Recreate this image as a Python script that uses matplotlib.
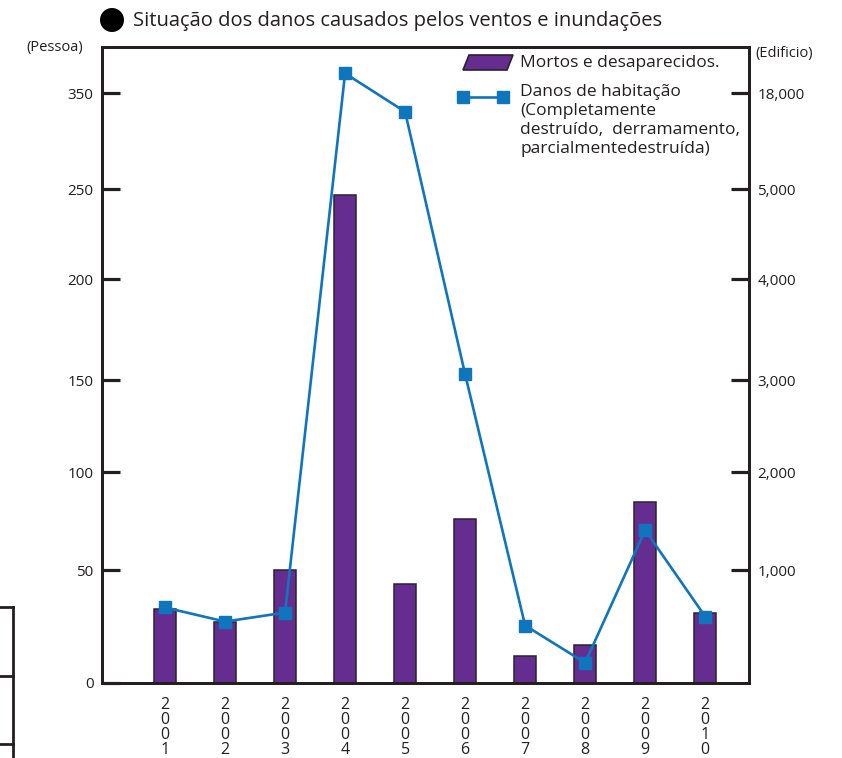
import numpy as np
import matplotlib
matplotlib.use("Agg")
import matplotlib.pyplot as plt
from matplotlib.patches import Polygon, Ellipse
from matplotlib.lines import Line2D

plt.rcParams['font.family'] = ['Open Sans', 'DejaVu Sans']

# data
years = ['2001', '2002', '2003', '2004', '2005', '2006', '2007', '2008', '2009', '2010']
mortos = [33, 27, 50, 247, 44, 76, 12, 17, 85, 31]
habitacao = [670, 545, 625, 20700, 15500, 3060, 510, 180, 1410, 590]

# broken axes: tick values on each side and where they sit (fraction of plot height)
left_ticks = [0, 50, 100, 150, 200, 250, 350]
right_ticks = [0, 1000, 2000, 3000, 4000, 5000, 18000]
breaks = np.array([0, 112.7, 210.7, 302.7, 403.7, 493.7, 589.7]) / 636.0

purple = '#662d91'
blue = '#0f75bc'
dark = '#231f20'


def piecewise(src, dst):
    src = np.asarray(src, float)
    dst = np.asarray(dst, float)
    s_hi = (dst[-1] - dst[-2]) / (src[-1] - src[-2])
    s_lo = (dst[1] - dst[0]) / (src[1] - src[0])

    def f(v):
        v = np.asarray(v, float)
        out = np.interp(v, src, dst)
        out = np.where(v > src[-1], dst[-1] + (v - src[-1]) * s_hi, out)
        out = np.where(v < src[0], dst[0] + (v - src[0]) * s_lo, out)
        return out
    return f


def scale_funcs(vals):
    return piecewise(vals, breaks), piecewise(breaks, vals)


fig = plt.figure(figsize=(8.42, 7.58), dpi=100)
ax = fig.add_axes([102 / 842, 75 / 758, 647 / 842, 636 / 758])

fwd_l, inv_l = scale_funcs(left_ticks)
ax.set_yscale('function', functions=(fwd_l, inv_l))
x = np.arange(len(years))
ax.bar(x, mortos, width=0.36, color=purple, edgecolor='#2b2230', linewidth=1.1, zorder=2)
ax.set_ylim(0, float(inv_l(1.0)))
ax.set_xlim(-1.05, 9.73)
ax.set_yticks(left_ticks)
ax.set_yticklabels([str(v) for v in left_ticks])
ax.yaxis.set_minor_locator(matplotlib.ticker.NullLocator())
ax.set_xticks(x)
ax.set_xticklabels(['\n'.join(y) for y in years], fontsize=11.5, linespacing=0.93,
                   color=dark, va='top')
ax.tick_params(axis='x', length=0, pad=10)
ax.tick_params(axis='y', direction='in', length=13, width=2.3, color=dark,
               labelsize=11, labelcolor=dark, pad=6)

ax2 = ax.twinx()
fwd_r, inv_r = scale_funcs(right_ticks)
ax2.set_yscale('function', functions=(fwd_r, inv_r))
ax2.plot(x, habitacao, color=blue, linewidth=1.9, marker='s', markersize=9,
         markerfacecolor=blue, markeredgecolor=blue, zorder=3)
ax2.set_ylim(0, float(inv_r(1.0)))
ax2.set_yticks(right_ticks[1:])
ax2.set_yticklabels(['{:,}'.format(v) for v in right_ticks[1:]])
ax2.yaxis.set_minor_locator(matplotlib.ticker.NullLocator())
ax2.tick_params(axis='y', direction='in', length=13, width=2.3, color=dark,
                labelsize=11, labelcolor=dark, pad=6)

for a in (ax, ax2):
    for sp in a.spines.values():
        sp.set_color(dark)
        sp.set_linewidth(2.0)

# legend drawn by hand
def axf(px, py):
    return ((px - 102) / 647, (683 - py) / 636)

para = Polygon([axf(463, 70), axf(469, 55), axf(513, 55), axf(507, 70)], closed=True,
               transform=ax2.transAxes, facecolor=purple, edgecolor='#2b2230', linewidth=1.2)
ax2.add_patch(para)
ax2.text(*axf(520, 63), 'Mortos e desaparecidos.', transform=ax2.transAxes,
         fontsize=12.5, va='center', ha='left', color=dark)
p1, p2 = axf(463, 97), axf(503, 97)
ax2.add_line(Line2D([p1[0], p2[0]], [p1[1], p2[1]], transform=ax2.transAxes, color=blue,
                    linewidth=1.9, marker='s', markersize=9, markerfacecolor=blue,
                    markeredgecolor=blue))
ax2.text(*axf(520, 84), 'Danos de habitação\n(Completamente\ndestruído,  derramamento,\nparcialmentedestruída)',
         transform=ax2.transAxes, fontsize=12.5, va='top', ha='left', color=dark,
         linespacing=1.25)

# title and unit labels
fig.add_artist(Ellipse((112 / 842, 1 - 20 / 758), 24 / 842, 24 / 758,
                       transform=fig.transFigure, facecolor='black', edgecolor='none'))
fig.text(133 / 842, 1 - 21 / 758, 'Situação dos danos causados pelos ventos e inundações',
         fontsize=14.5, va='center', ha='left', color=dark)
fig.text(55 / 842, 1 - 47 / 758, '(Pessoa)', fontsize=10.5, ha='center', va='center', color=dark)
fig.text(755 / 842, 1 - 53 / 758, '(Edificio)', fontsize=10.5, ha='left', va='center', color=dark)

# fragment of a neighbouring table at the left edge
for (xa, ya, xb, yb) in [(13, 607, 13, 758), (0, 607, 13, 607), (0, 676, 13, 676), (0, 744, 13, 744)]:
    fig.add_artist(Line2D([xa / 842, xb / 842], [1 - ya / 758, 1 - yb / 758],
                          transform=fig.transFigure, color=dark, linewidth=2.0))

fig.savefig('out.png', dpi=100)
